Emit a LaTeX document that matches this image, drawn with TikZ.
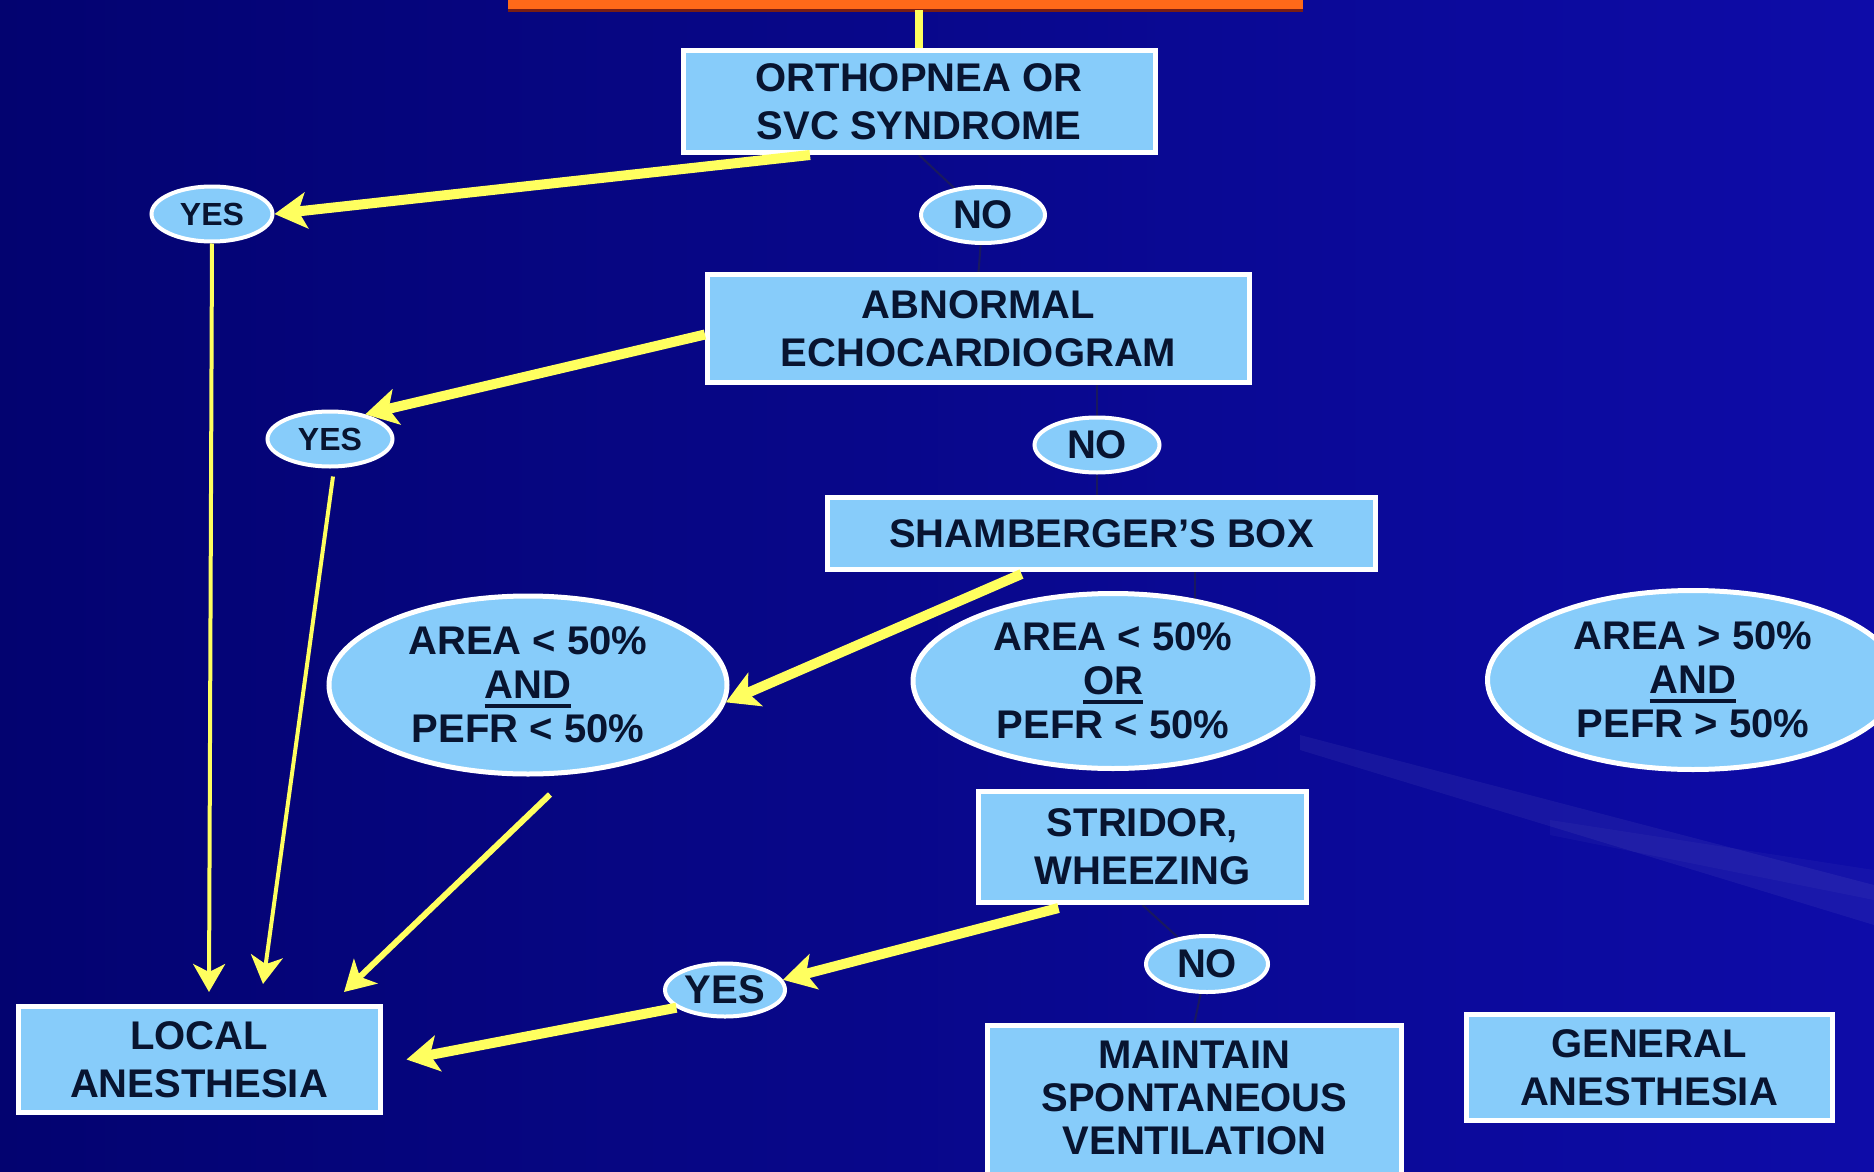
\documentclass[tikz,border=0pt]{standalone}
\usepackage{fontspec}
\setmainfont{Liberation Sans}
\usetikzlibrary{shapes.geometric,arrows.meta,calc,shadows}
\definecolor{bgdark}{RGB}{3,3,112}
\definecolor{bgblue}{RGB}{10,10,155}
\definecolor{bgblue2}{RGB}{14,12,168}
\definecolor{boxblue}{RGB}{135,204,250}
\definecolor{txtdark}{RGB}{8,20,48}
\definecolor{arrowyellow}{RGB}{255,255,95}
\definecolor{lineblue}{RGB}{25,25,95}
\definecolor{titleorange}{RGB}{255,105,25}
\definecolor{titleedge}{RGB}{120,30,20}
\definecolor{shadowgray}{RGB}{150,150,200}
\pgfdeclarelayer{back}
\pgfdeclarelayer{links}
\pgfsetlayers{back,links,main}
\newcommand\myul[1]{\setbox0=\hbox{#1}\leavevmode\rlap{\raisebox{-4.5pt}{\rule{\wd0}{1.8pt}}}\box0}
\begin{document}
\begin{tikzpicture}[x=0.5pt,y=-0.5pt,
  txt/.style={text=txtdark, font=\bfseries\fontsize{20}{24}\selectfont, align=center, inner sep=0pt},
  box/.style={txt, rectangle, fill=boxblue, draw=white, line width=2.5pt,
    drop shadow={shadow xshift=1.3pt, shadow yshift=-1.3pt, fill=shadowgray, opacity=1}},
  oval/.style={txt, ellipse, fill=boxblue, draw=white, line width=2pt},
  smalloval/.style={oval, font=\bfseries\fontsize{16}{19}\selectfont},
  bigoval/.style={oval, line width=2.5pt, font=\bfseries\fontsize{20}{22}\selectfont},
  yarrow/.style={draw=arrowyellow, line width=5pt, -{Stealth[length=16pt,width=18pt,inset=4pt]}},
  ymid/.style={draw=arrowyellow, line width=3pt, -{Stealth[length=15pt,width=17pt,inset=4pt]}},
  ythin/.style={draw=arrowyellow, line width=2pt, -{Stealth[length=14pt,width=16pt,inset=4pt]}},
  yline/.style={draw=arrowyellow, line width=4pt},
  dline/.style={draw=lineblue, line width=1pt}]
\useasboundingbox (0,0) rectangle (1874,1172);
\begin{pgfonlayer}{back}
  \shade[left color=bgdark, middle color=bgblue, right color=bgblue2] (0,0) rectangle (1874,1172);
  \fill[white, opacity=0.05] (1300,735) -- (1874,885) -- (1874,925) -- (1300,750) -- cycle;
  \fill[white, opacity=0.03] (1550,820) -- (1874,870) -- (1874,900) -- (1550,835) -- cycle;
\end{pgfonlayer}
\clip (0,0) rectangle (1874,1172);

% title bar (cut off at top)
\node[fill=titleorange, minimum width=397.5pt, minimum height=20pt, inner sep=0pt] (title) at (905.5,-10) {};
\draw[titleedge, line width=1.5pt] (title.south west) -- (title.south east);

% nodes
\node[box, minimum width=236pt, minimum height=51pt] (orth) at (919,101.5) {ORTHOPNEA OR\\SVC SYNDROME};
\node[oval, minimum width=62pt, minimum height=28pt] (no1) at (983,215) {NO};
\node[smalloval, minimum width=60.5pt, minimum height=27.5pt] (yes1) at (212,214) {YES};
\node[box, minimum width=271pt, minimum height=54pt] (abn) at (978.5,328.5) {ABNORMAL\\ECHOCARDIOGRAM};
\node[smalloval, minimum width=62.5pt, minimum height=27.5pt] (yes2) at (330,439) {YES};
\node[oval, minimum width=62.5pt, minimum height=27.5pt] (no2) at (1097,445) {NO};
\node[box, minimum width=274pt, minimum height=36pt] (sham) at (1101.5,533.5) {SHAMBERGER'S BOX};
\node[bigoval, minimum width=199pt, minimum height=89pt] (and1) at (528,685) {AREA < 50\%\\\myul{AND}\\PEFR < 50\%};
\node[bigoval, minimum width=200pt, minimum height=87.5pt] (orel) at (1113,681) {AREA < 50\%\\\myul{OR}\\PEFR < 50\%};
\node[bigoval, minimum width=205.5pt, minimum height=89.5pt] (and2) at (1693,680) {AREA > 50\%\\\myul{AND}\\PEFR > 50\%};
\node[box, minimum width=164pt, minimum height=55.5pt] (strid) at (1142.5,847) {STRIDOR,\\WHEEZING};
\node[oval, minimum width=60pt, minimum height=26.5pt] (yes3) at (725,990) {YES};
\node[oval, minimum width=61pt, minimum height=28pt] (no3) at (1207,964) {NO};
\node[box, minimum width=181pt, minimum height=53pt] (local) at (199,1059.5) {LOCAL\\ANESTHESIA};
\node[box, minimum width=207pt, minimum height=90pt] (maint) at (1194.5,1115) {};
\node[txt, font=\bfseries\fontsize{20}{21.5}\selectfont] (mainttxt) at (1194.5,1098) {MAINTAIN\\SPONTANEOUS\\VENTILATION};
\node[box, minimum width=183pt, minimum height=53pt] (gen) at (1649,1067.5) {GENERAL\\ANESTHESIA};

% thin dark links behind the nodes
\begin{pgfonlayer}{links}
  \draw[dline] (orth.south) -- (no1);
  \draw[dline] (no1) -- (abn.north);
  \draw[dline] (no2 |- abn.south) -- (no2);
  \draw[dline] (no2) -- (no2 |- sham.north);
  \draw[dline] (orel.45 |- sham.south) -- (orel.45);
  \draw[dline] (strid.south) -- (no3);
  \draw[dline] (no3) -- (maint.north);
\end{pgfonlayer}

% yellow connectors
\draw[yline] (orth.north) -- (orth.north |- title.south);
\draw[yarrow] ($(orth.south)+(-109,0)$) -- (yes1.east);
\draw[ythin] (yes1.south) -- ($(local.north)+(10,-12)$);
\draw[yarrow] ($(abn.west)+(0,6)$) -- (yes2.35);
\draw[ythin] ($(yes2.south)+(3,8)$) -- ($(local.north)+(64,-20)$);
\draw[yarrow] ($(sham.south)+(-80,2)$) -- (and1.-5);
\draw[ymid] ($(and1.south)+(22,18)$) -- ($(local.north)+(145,-12)$);
\draw[yarrow] ($(strid.south)+(-84,3)$) -- (yes3.10);
\draw[yarrow] (yes3.200) -- ($(local.east)+(24,0)$);
\end{tikzpicture}
\end{document}
